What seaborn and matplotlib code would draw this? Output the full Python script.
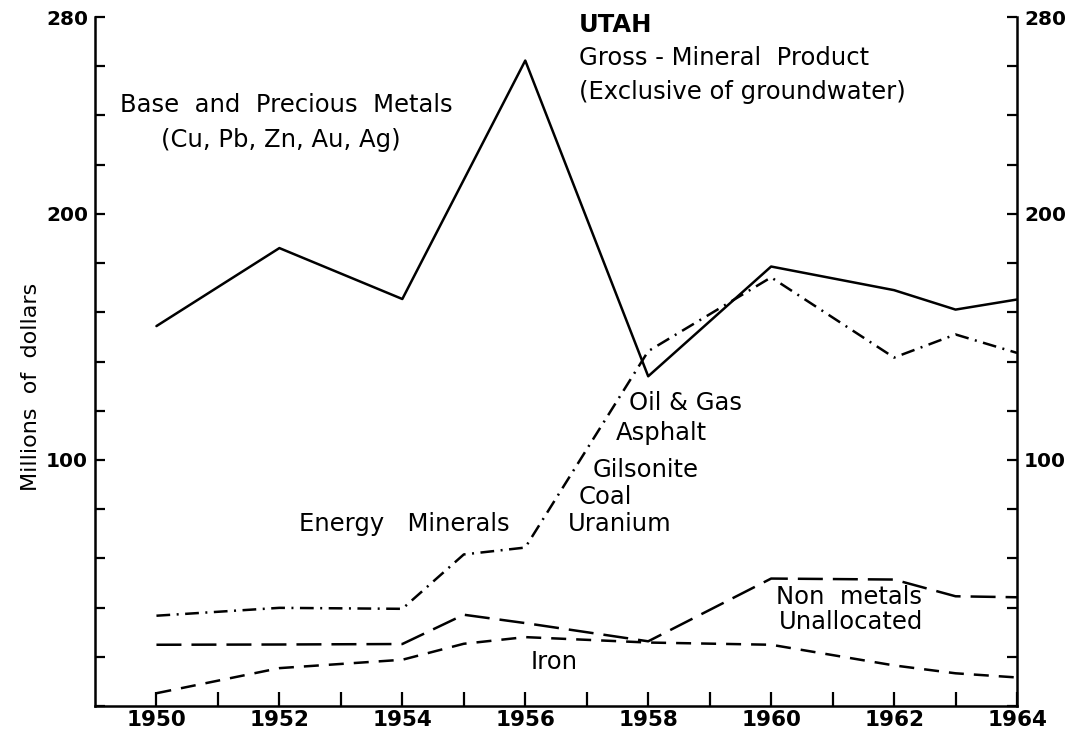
import numpy as np
import pandas as pd
import seaborn as sns
import matplotlib
matplotlib.use('Agg')
import matplotlib.pyplot as plt

# values (millions of dollars)
metal_years = [1950, 1952, 1954, 1956, 1958, 1960, 1962, 1963, 1964]
metal_vals = [154.4, 186.1, 165.4, 262.3, 134.0, 178.6, 169.0, 161.1, 165.2]

other_years = [1950, 1952, 1954, 1955, 1956, 1958, 1960, 1962, 1963, 1964]
energy_vals = [36.7, 39.9, 39.5, 61.6, 64.4, 144.2, 174.2, 141.6, 151.0, 143.5]
nonmetal_vals = [24.9, 25.0, 25.2, 37.1, 33.7, 26.3, 51.8, 51.4, 44.6, 44.2]
iron_vals = [5.2, 15.4, 18.8, 25.3, 28.0, 25.8, 24.9, 16.5, 13.3, 11.6]

year_ticks = list(range(1950, 1965))
year_labels = [str(y) if y % 2 == 0 else '' for y in year_ticks]
value_ticks = list(range(0, 281, 20))
value_labels = [str(v) if v in (100, 200, 280) else '' for v in value_ticks]

rows = []
for y, v in zip(metal_years, metal_vals):
    rows.append(('metals', y, v))
for name, vals in [('energy', energy_vals), ('nonmetals', nonmetal_vals), ('iron', iron_vals)]:
    for y, v in zip(other_years, vals):
        rows.append((name, y, v))
df = pd.DataFrame(rows, columns=['series', 'year', 'value'])

sns.set_theme(style='white')
plt.rcParams['font.family'] = ['DejaVu Sans']
plt.rcParams['text.color'] = 'black'
plt.rcParams['xtick.color'] = 'black'
plt.rcParams['ytick.color'] = 'black'

fig = plt.figure(figsize=(10.72, 7.33), dpi=100)
ax = fig.add_axes([0.0886, 0.0368, 0.8601, 0.9400])

dash_map = {'metals': '', 'energy': (5.5, 2.6, 0.8, 2.6),
            'nonmetals': (10, 4), 'iron': (6, 4)}
sns.lineplot(data=df, x='year', y='value', style='series', dashes=dash_map,
             color='black', linewidth=1.8, legend=False, estimator=None,
             sort=False, ax=ax)

ax.set_xlim(1949, 1964)
ax.set_ylim(0, 280)
ax.set_xticks(year_ticks)
ax.set_xticklabels(year_labels, fontsize=15.5, fontweight='bold')
ax.set_yticks(value_ticks)
ax.set_yticklabels(value_labels, fontsize=14.5, fontweight='bold')
ax.tick_params(axis='y', direction='in', length=7, width=1.6, left=True,
               right=True, labelright=True, pad=5)
ax.tick_params(axis='x', direction='in', length=10, width=1.6, bottom=True, pad=3)

ax.spines['top'].set_visible(False)
for s in ['left', 'right', 'bottom']:
    ax.spines[s].set_linewidth(1.8)
    ax.spines[s].set_color('black')

ax.set_xlabel('')
ax.set_ylabel('')
fig.text(31 / 1072, 1 - 387 / 733, 'Millions  of  dollars', fontsize=16,
         rotation=90, ha='center', va='center')

fs = 17.5
ax.text(1956.87, 276.7, 'UTAH', fontsize=fs, fontweight='bold', va='center')
ax.text(1956.87, 263.3, 'Gross - Mineral  Product', fontsize=fs, va='center')
ax.text(1956.87, 249.5, '(Exclusive of groundwater)', fontsize=fs, va='center')
ax.text(1949.40, 244.2, 'Base  and  Precious  Metals', fontsize=fs, va='center')
ax.text(1950.08, 230.0, '(Cu, Pb, Zn, Au, Ag)', fontsize=fs, va='center')
ax.text(1952.32, 74.0, 'Energy   Minerals', fontsize=fs, va='center')
ax.text(1957.68, 123.1, 'Oil & Gas', fontsize=fs, va='center')
ax.text(1957.48, 110.9, 'Asphalt', fontsize=fs, va='center')
ax.text(1957.09, 95.9, 'Gilsonite', fontsize=fs, va='center')
ax.text(1956.87, 84.9, 'Coal', fontsize=fs, va='center')
ax.text(1956.69, 74.0, 'Uranium', fontsize=fs, va='center')
ax.text(1960.08, 44.3, 'Non  metals', fontsize=fs, va='center')
ax.text(1960.13, 34.1, 'Unallocated', fontsize=fs, va='center')
ax.text(1956.09, 17.9, 'Iron', fontsize=fs, va='center')

fig.savefig('out.png', dpi=100)
